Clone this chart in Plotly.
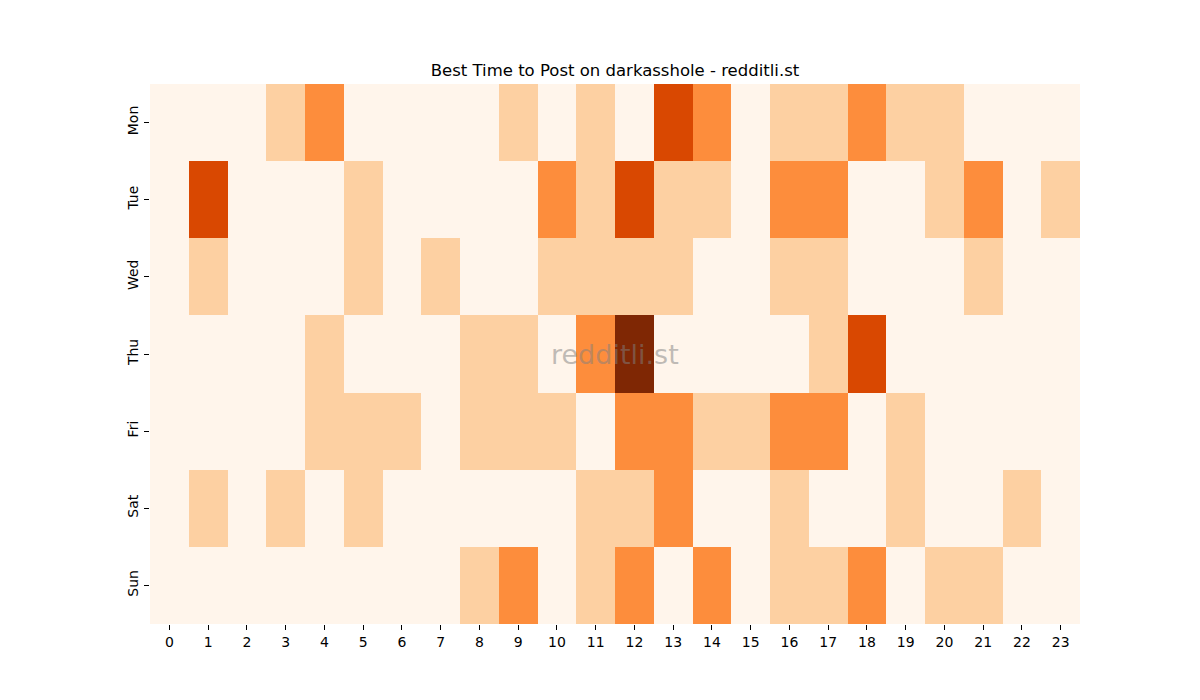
import plotly.graph_objects as go

hours = list(range(24))
days = ["Mon", "Tue", "Wed", "Thu", "Fri", "Sat", "Sun"]

# activity level per day (rows) and hour (columns), 0..4
mon = [0, 0, 0, 1, 2, 0, 0, 0, 0, 1, 0, 1, 0, 3, 2, 0, 1, 1, 2, 1, 1, 0, 0, 0]
tue = [0, 3, 0, 0, 0, 1, 0, 0, 0, 0, 2, 1, 3, 1, 1, 0, 2, 2, 0, 0, 1, 2, 0, 1]
wed = [0, 1, 0, 0, 0, 1, 0, 1, 0, 0, 1, 1, 1, 1, 0, 0, 1, 1, 0, 0, 0, 1, 0, 0]
thu = [0, 0, 0, 0, 1, 0, 0, 0, 1, 1, 0, 2, 4, 0, 0, 0, 0, 1, 3, 0, 0, 0, 0, 0]
fri = [0, 0, 0, 0, 1, 1, 1, 0, 1, 1, 1, 0, 2, 2, 1, 1, 2, 2, 0, 1, 0, 0, 0, 0]
sat = [0, 1, 0, 1, 0, 1, 0, 0, 0, 0, 0, 1, 1, 2, 0, 0, 1, 0, 0, 1, 0, 0, 1, 0]
sun = [0, 0, 0, 0, 0, 0, 0, 0, 1, 2, 0, 1, 2, 0, 2, 0, 1, 1, 2, 0, 1, 1, 0, 0]

z = [mon, tue, wed, thu, fri, sat, sun]

colors = ["#fff5eb", "#fdd0a2", "#fd8d3c", "#d94801", "#7f2704"]
scale = []
for i, c in enumerate(colors):
    scale.append([i / 5, c])
    scale.append([(i + 1) / 5, c])

fig = go.Figure()
fig.add_trace(go.Heatmap(
    z=z, x=hours, y=days,
    zmin=-0.5, zmax=4.5,
    colorscale=scale, showscale=False,
))

fig.add_annotation(
    text="redditli.st", x=0.5, y=0.5, xref="paper", yref="paper",
    showarrow=False, font=dict(size=27, color="rgba(128,128,128,0.5)"),
)

fig.update_layout(
    width=1200, height=700,
    margin=dict(l=142, r=128, t=76, b=84),
    paper_bgcolor="white", plot_bgcolor="white",
    font=dict(family="DejaVu Sans", size=14, color="black"),
    title=dict(text="Best Time to Post on darkasshole - redditli.st",
               x=0.5, xref="paper", xanchor="center", y=0.911, yanchor="middle",
               font=dict(size=16.5)),
)
fig.update_xaxes(tickmode="array", tickvals=hours, ticktext=[str(h) for h in hours],
                 ticks="outside", ticklen=5, tickcolor="black", showgrid=False,
                 zeroline=False, range=[-0.5, 23.5])
fig.update_yaxes(autorange="reversed", tickangle=-90, ticks="outside", ticklen=5,
                 tickcolor="black", showgrid=False, zeroline=False)

fig.write_html("out.html")
